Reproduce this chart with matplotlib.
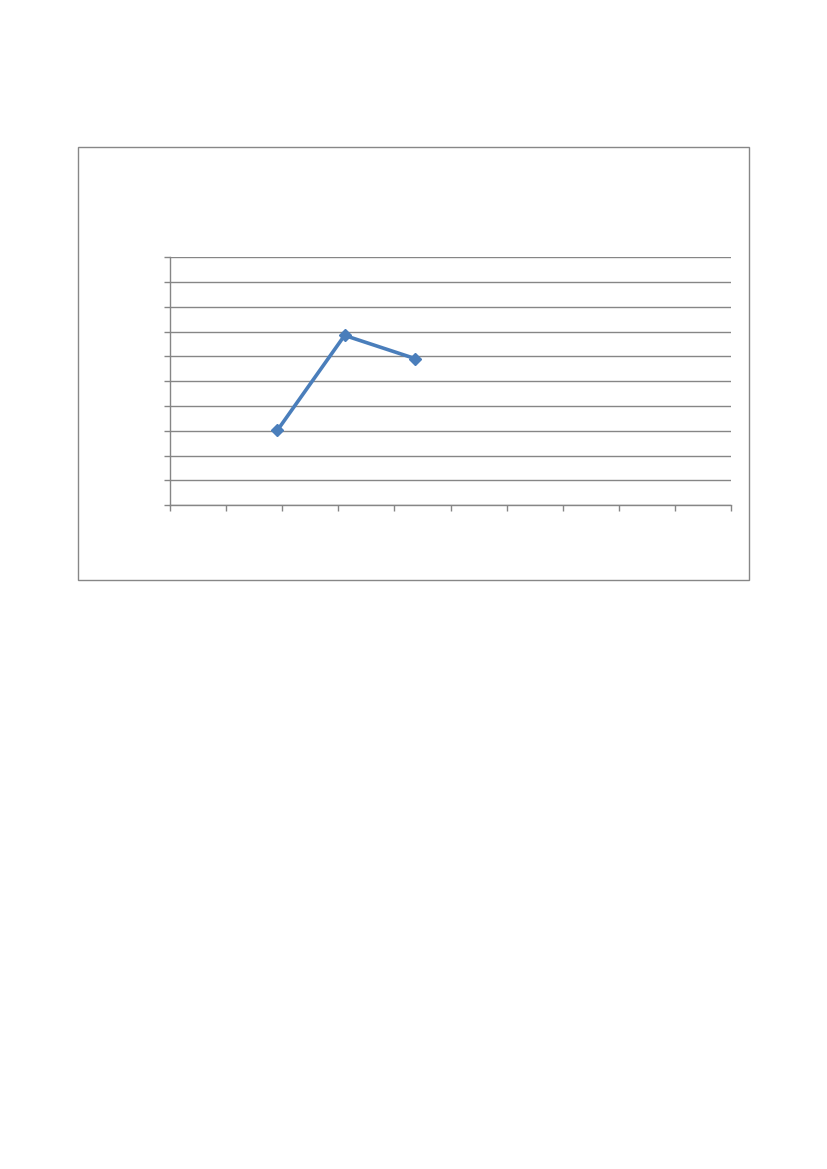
import matplotlib
matplotlib.use("Agg")
import matplotlib.pyplot as plt
from matplotlib.patches import Rectangle

# Data
x_values = [1.91, 3.11, 4.375]
y_values = [3.02, 6.85, 5.91]
x_ticks = list(range(0, 11))
y_ticks = list(range(0, 11))

W, H = 827, 1169
fig = plt.figure(figsize=(W / 100, H / 100), dpi=100)

# Chart frame
bx0, by0, bx1, by1 = 78.0, 147.5, 748.5, 580.0
fig.patches.append(Rectangle((bx0 / W, 1 - by1 / H), (bx1 - bx0) / W, (by1 - by0) / H,
                             transform=fig.transFigure, fill=False,
                             edgecolor="#878787", linewidth=1.0))

# Plot area
px0, py0, px1, py1 = 170.3, 257.3, 730.7, 505.3
ax = fig.add_axes([px0 / W, 1 - py1 / H, (px1 - px0) / W, (py1 - py0) / H])
ax.set_xlim(0, 10)
ax.set_ylim(0, 10)
ax.set_xticks(x_ticks)
ax.set_yticks(y_ticks)
ax.set_xticklabels([])
ax.set_yticklabels([])
ax.tick_params(axis="both", direction="out", length=4, width=1.0, color="#868686")
ax.grid(axis="y", color="#868686", linewidth=1.0)
ax.set_axisbelow(True)
for s in ["top", "right"]:
    ax.spines[s].set_visible(False)
for s in ["left", "bottom"]:
    ax.spines[s].set_color("#868686")
    ax.spines[s].set_linewidth(1.0)
ax.patch.set_alpha(0)

ax.plot(x_values, y_values, color="#4A7EBB", linewidth=2.6,
        marker="D", markersize=6.5, markerfacecolor="#4A7EBB",
        markeredgecolor="#4A7EBB", clip_on=False)

fig.savefig("out.png", dpi=100)
